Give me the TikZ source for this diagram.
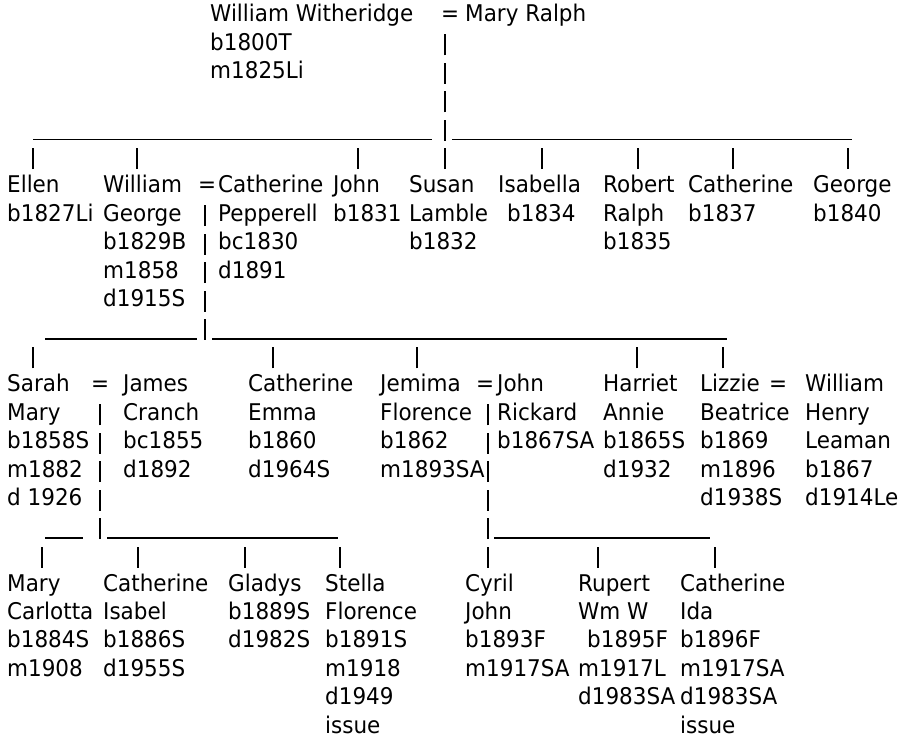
\documentclass[tikz,border=0pt]{standalone}
\usepackage{fontspec}
\setmainfont{DejaVu Sans}[FakeStretch=0.935]
\newcount\fcnt
\newcommand{\ftx}[3]{\global\advance\fcnt by 1 \node[txt] (t\the\fcnt) at (#1,{-(22+28.45*#2)}) {#3};}
\newcommand{\fpipe}[2]{\draw[conn] (#1,{-(22+28.45*#2)-5}) -- (#1,{-(22+28.45*#2)+16});}
\newcommand{\fus}[3]{\draw[conn] (#1,{-(22+28.45*#3)-4}) -- (#2,{-(22+28.45*#3)-4});}
\tikzset{
  txt/.style={anchor=base west, inner sep=0pt, font=\fontsize{23}{27}\selectfont, text=black},
  conn/.style={line width=1.3pt, black}
}
\begin{document}
\begin{tikzpicture}[x=1pt,y=1pt]
\useasboundingbox (0,0) rectangle (903,-741);
% generation 1
\ftx{210}{0}{William Witheridge}
\ftx{441}{0}{=}
\ftx{465}{0}{Mary Ralph}
\ftx{210}{1}{b1800T}
\ftx{210}{2}{m1825Li}
\fpipe{445}{1}\fpipe{445}{2}\fpipe{445}{3}
\fus{33}{432}{4}\fpipe{445}{4}\fus{452}{852}{4}
\foreach \x in {33,137,358,445,542,638,733,848} {\fpipe{\x}{5}}
% generation 2
\ftx{7}{6}{Ellen}
\ftx{103}{6}{William}
\ftx{198}{6}{=}
\ftx{218}{6}{Catherine}
\ftx{333}{6}{John}
\ftx{409}{6}{Susan}
\ftx{498}{6}{Isabella}
\ftx{603}{6}{Robert}
\ftx{688}{6}{Catherine}
\ftx{813}{6}{George}
\ftx{7}{7}{b1827Li}
\ftx{103}{7}{George}
\ftx{218}{7}{Pepperell}
\ftx{333}{7}{b1831}
\ftx{409}{7}{Lamble}
\ftx{507}{7}{b1834}
\ftx{603}{7}{Ralph}
\ftx{688}{7}{b1837}
\ftx{813}{7}{b1840}
\ftx{103}{8}{b1829B}
\ftx{218}{8}{bc1830}
\ftx{409}{8}{b1832}
\ftx{603}{8}{b1835}
\ftx{103}{9}{m1858}
\ftx{218}{9}{d1891}
\ftx{103}{10}{d1915S}
\fpipe{205}{7}\fpipe{205}{8}\fpipe{205}{9}\fpipe{205}{10}
\fus{45}{197}{11}\fpipe{205}{11}\fus{212}{727}{11}
\foreach \x in {33,273,417,637,723} {\fpipe{\x}{12}}
% generation 3
\ftx{7}{13}{Sarah}
\ftx{91}{13}{=}
\ftx{123}{13}{James}
\ftx{248}{13}{Catherine}
\ftx{380}{13}{Jemima}
\ftx{476}{13}{=}
\ftx{497}{13}{John}
\ftx{603}{13}{Harriet}
\ftx{700}{13}{Lizzie}
\ftx{769}{13}{=}
\ftx{805}{13}{William}
\ftx{7}{14}{Mary}
\ftx{123}{14}{Cranch}
\ftx{248}{14}{Emma}
\ftx{380}{14}{Florence}
\ftx{497}{14}{Rickard}
\ftx{603}{14}{Annie}
\ftx{700}{14}{Beatrice}
\ftx{805}{14}{Henry}
\ftx{7}{15}{b1858S}
\ftx{123}{15}{bc1855}
\ftx{248}{15}{b1860}
\ftx{380}{15}{b1862}
\ftx{497}{15}{b1867SA}
\ftx{603}{15}{b1865S}
\ftx{700}{15}{b1869}
\ftx{805}{15}{Leaman}
\ftx{7}{16}{m1882}
\ftx{123}{16}{d1892}
\ftx{248}{16}{d1964S}
\ftx{380}{16}{m1893SA}
\ftx{603}{16}{d1932}
\ftx{700}{16}{m1896}
\ftx{805}{16}{b1867}
\ftx{7}{17}{d 1926}
\ftx{700}{17}{d1938S}
\ftx{805}{17}{d1914Le}
\foreach \r in {14,15,16,17} {\fpipe{100}{\r}\fpipe{488}{\r}}
\fus{45}{83}{18}\fpipe{100}{18}\fus{107}{338}{18}
\fpipe{488}{18}\fus{494}{710}{18}
\foreach \x in {42,138,245,340,488,598,715} {\fpipe{\x}{19}}
% generation 4
\ftx{7}{20}{Mary}
\ftx{103}{20}{Catherine}
\ftx{228}{20}{Gladys}
\ftx{325}{20}{Stella}
\ftx{465}{20}{Cyril}
\ftx{578}{20}{Rupert}
\ftx{680}{20}{Catherine}
\ftx{7}{21}{Carlotta}
\ftx{103}{21}{Isabel}
\ftx{228}{21}{b1889S}
\ftx{325}{21}{Florence}
\ftx{465}{21}{John}
\ftx{578}{21}{Wm W}
\ftx{680}{21}{Ida}
\ftx{7}{22}{b1884S}
\ftx{103}{22}{b1886S}
\ftx{228}{22}{d1982S}
\ftx{325}{22}{b1891S}
\ftx{465}{22}{b1893F}
\ftx{587}{22}{b1895F}
\ftx{680}{22}{b1896F}
\ftx{7}{23}{m1908}
\ftx{103}{23}{d1955S}
\ftx{325}{23}{m1918}
\ftx{465}{23}{m1917SA}
\ftx{578}{23}{m1917L}
\ftx{680}{23}{m1917SA}
\ftx{325}{24}{d1949}
\ftx{578}{24}{d1983SA}
\ftx{680}{24}{d1983SA}
\ftx{325}{25}{issue}
\ftx{680}{25}{issue}
\end{tikzpicture}
\end{document}
